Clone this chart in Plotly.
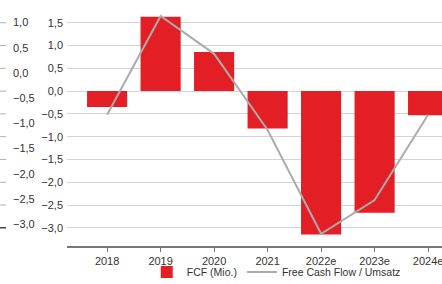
import plotly.graph_objects as go

years = ["2018", "2019", "2020", "2021", "2022e", "2023e", "2024e"]
fcf = [-0.35, 1.63, 0.86, -0.82, -3.15, -2.67, -0.53]
fcf_ratio = [-0.83, 1.13, 0.38, -1.13, -3.19, -2.52, -0.83]
bar_ticks = [1.5, 1.0, 0.5, 0.0, -0.5, -1.0, -1.5, -2.0, -2.5, -3.0]
ratio_ticks = [1.0, 0.5, 0.0, -0.5, -1.0, -1.5, -2.0, -2.5, -3.0]

W, H = 442, 284
FONT = "Liberation Sans, Arial, sans-serif"

fig = go.Figure()
fig.add_trace(go.Bar(x=years, y=fcf, name="FCF (Mio.)", marker_color="#e31e24",
                     marker_line_width=0, width=0.75, yaxis="y"))
fig.add_trace(go.Scatter(x=years, y=fcf_ratio, name="Free Cash Flow / Umsatz", mode="lines",
                         line=dict(color="#ababab", width=2), yaxis="y2"))

shapes = []
for i, v in enumerate(bar_ticks):
    last = i == len(bar_ticks) - 1
    shapes.append(dict(type="line", xref="paper", yref="y", x0=0, x1=6 / W, y0=v, y1=v,
                       line=dict(color="#444444" if last else "#b0b0b0", width=1.5 if last else 1)))

fig.update_layout(
    width=W, height=H,
    margin=dict(l=0, r=0, t=0, b=38, autoexpand=False),
    paper_bgcolor="white", plot_bgcolor="white",
    separators=",.",
    font=dict(family=FONT, size=11, color="#333333"),
    bargap=0.25,
    shapes=shapes,
    showlegend=True,
    legend=dict(orientation="h", x=0.625, xanchor="center", xref="container",
                y=(H - 272) / H, yanchor="middle", yref="container",
                bgcolor="rgba(0,0,0,0)",
                font=dict(size=10.5, color="#333333"), itemwidth=30, tracegroupgap=0),
    xaxis=dict(domain=[67 / W, 1], type="category", range=[-0.75, 6.26],
               showline=True, linecolor="#777777", linewidth=1.5,
               ticks="outside", ticklen=4, tickcolor="#777777", automargin=False,
               showgrid=False, tickfont=dict(size=11, color="#333333")),
    yaxis=dict(range=[-3.4, 2.0], tickvals=bar_ticks, tickformat=".1f", automargin=False,
               showgrid=True, gridcolor="#d4d4d4", gridwidth=1, zeroline=False,
               showline=False, ticks="", ticklabelstandoff=3,
               tickfont=dict(size=11, color="#333333")),
    yaxis2=dict(overlaying="y", side="left", anchor="free", position=0, automargin=False,
                range=[-3.433, 1.448], tickvals=ratio_ticks, tickformat=".1f",
                showgrid=False, zeroline=False, showline=False, ticks="",
                ticklabelposition="inside", ticklabelstandoff=9,
                tickfont=dict(size=11, color="#333333")),
)

fig.write_html("out.html", config={"displayModeBar": False},
               post_script="document.body.style.margin='0';document.body.style.overflow='hidden';")
